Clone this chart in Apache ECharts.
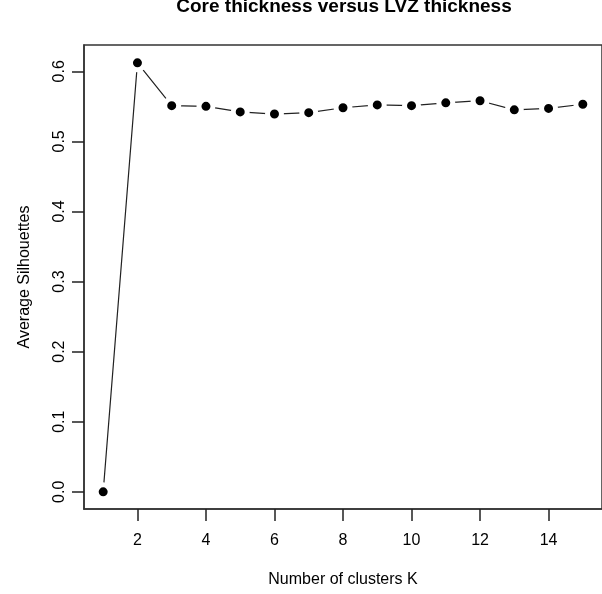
<!DOCTYPE html>
<html>
<head>
<meta charset="utf-8">
<script src="https://cdn.jsdelivr.net/npm/echarts@6/dist/echarts.min.js"></script>
<style>html,body{margin:0;padding:0;background:#fff;}#c{width:602px;height:594px;}</style>
</head>
<body>
<div id="c"></div>
<script>
var clustersK = [1,2,3,4,5,6,7,8,9,10,11,12,13,14,15];
var avgSilhouette = [0.000,0.612,0.551,0.550,0.542,0.539,0.541,0.548,0.552,0.551,0.555,0.558,0.545,0.547,0.553];
var xTicks = [2,4,6,8,10,12,14];
var yTicks = [0,0.1,0.2,0.3,0.4,0.5,0.6];

var chart = echarts.init(document.getElementById('c'), null, {renderer:'canvas'});
var font = 'Liberation Sans, Arial, Helvetica, sans-serif';
chart.setOption({
  animation:false,
  backgroundColor:'#ffffff',
  graphic:[{type:'text', x:344, y:7, style:{text:'Core thickness versus LVZ thickness', font:'bold 19px ' + font, fill:'#000', textAlign:'center', textVerticalAlign:'middle'}}],
  grid:{left:84, top:45, right:-5, bottom:85, show:true, borderColor:'#333', borderWidth:1.5, backgroundColor:'transparent'},
  xAxis:{type:'value', min:0.44, max:15.56, position:'bottom',
    name:'Number of clusters K', nameLocation:'middle', nameGap:63,
    nameTextStyle:{fontFamily:font, fontSize:16, color:'#000'},
    axisLine:{show:true, onZero:false, lineStyle:{color:'#333', width:1.5}}, splitLine:{show:false},
    axisTick:{show:true, inside:false, length:12, customValues:xTicks, lineStyle:{color:'#222', width:1.5}},
    axisLabel:{customValues:xTicks, margin:24, fontFamily:font, fontSize:16, color:'#000'}},
  yAxis:{type:'value', min:-0.0245, max:0.6375, position:'left',
    name:'Average Silhouettes', nameLocation:'middle', nameGap:51, nameRotate:90,
    nameTextStyle:{fontFamily:font, fontSize:16, color:'#000'},
    axisLine:{show:true, onZero:false, lineStyle:{color:'#333', width:1.5}}, splitLine:{show:false},
    axisTick:{show:true, inside:false, length:12, customValues:yTicks, lineStyle:{color:'#222', width:1.5}},
    axisLabel:{customValues:yTicks, rotate:90, margin:16, fontFamily:font, fontSize:16, color:'#000',
      formatter:function(v){return v.toFixed(1);}}},
  series:[{type:'line', data:clustersK.map(function(k,i){return [k, avgSilhouette[i]];}),
    symbol:'circle', symbolSize:14, showAllSymbol:true,
    lineStyle:{color:'#222', width:1.2},
    itemStyle:{color:'#000', borderColor:'#fff', borderWidth:5},
    emphasis:{disabled:true}}]
});
</script>
</body>
</html>
